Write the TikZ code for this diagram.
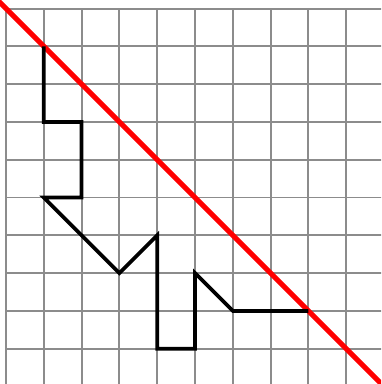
\documentclass[tikz,border=0pt]{standalone}
\begin{document}
\begin{tikzpicture}[x=1cm,y=-1cm,
  gridline/.style={draw=black!45, line width=1.5pt},
  walk/.style={draw=black, line width=2.8pt, line join=miter},
  diag/.style={draw=red, line width=3.8pt}]
\useasboundingbox (-0.159,-0.225) rectangle (9.921,9.934);
\clip (-0.159,-0.225) rectangle (9.921,9.934);
\draw[gridline] (0,0) grid (11,11);
\coordinate (d0) at (-1,-1);
\coordinate (d1) at (11,11);
\draw[diag] (d0) -- (d1);
\coordinate (p1) at (1,1);
\coordinate (p2) at (1,3);
\coordinate (p3) at (2,3);
\coordinate (p4) at (2,5);
\coordinate (p5) at (1,5);
\coordinate (p6) at (3,7);
\coordinate (p7) at (4,6);
\coordinate (p8) at (4,9);
\coordinate (p9) at (5,9);
\coordinate (p10) at (5,7);
\coordinate (p11) at (6,8);
\coordinate (p12) at (8,8);
\draw[walk] (p1) -- (p2) -- (p3) -- (p4) -- (p5) -- (p6) -- (p7) -- (p8) -- (p9) -- (p10) -- (p11) -- (p12);
\end{tikzpicture}
\end{document}
